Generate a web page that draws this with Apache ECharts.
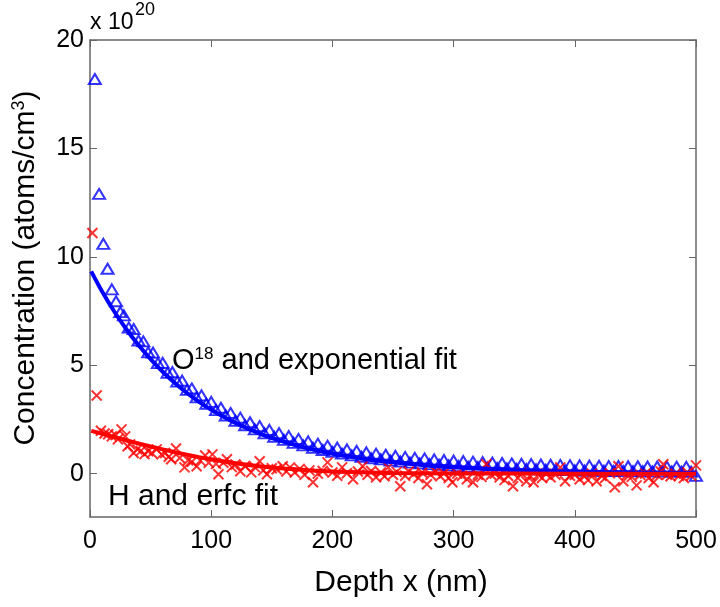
<!DOCTYPE html>
<html>
<head>
<meta charset="utf-8">
<title>Depth profile</title>
<script src="https://cdn.jsdelivr.net/npm/echarts@6/dist/echarts.min.js"></script>
<style>
  html, body { margin: 0; padding: 0; background: #fff; }
  #chart { width: 720px; height: 607px; }
</style>
</head>
<body>
<div id="chart"></div>
<script>
// O18 points, depth (nm) and concentration (x 1e20 atoms/cm3)
var oDepth = [4, 7.5, 11, 14.5, 18, 21.5, 25, 28, 32, 36, 40, 44, 48, 52, 56, 60, 64, 68, 72, 76, 80, 84, 88, 92, 96, 100,
  104, 108, 112, 116, 120, 124, 128, 132, 136, 140, 144, 148, 152, 156, 160, 164, 168, 172, 176, 180, 184, 188, 192, 196, 200,
  204, 208, 212, 216, 220, 224, 228, 232, 236, 240, 244, 248, 252, 256, 260, 264, 268, 272, 276, 280, 284, 288, 292, 296, 300,
  304, 308, 312, 316, 320, 324, 328, 332, 336, 340, 344, 348, 352, 356, 360, 364, 368, 372, 376, 380, 384, 388, 392, 396, 400,
  404, 408, 412, 416, 420, 424, 428, 432, 436, 440, 444, 448, 452, 456, 460, 464, 468, 472, 476, 480, 484, 488, 492, 496, 500];
var oConc = [18.2, 12.9, 10.6, 9.45, 8.5, 7.95, 7.45, 7.30, 6.74, 6.67, 6.14, 6.10, 5.60, 5.58, 5.10, 5.11, 4.65, 4.68, 4.24, 4.29, 3.86, 3.93, 3.52, 3.61, 3.22, 3.31,
  2.93, 3.04, 2.68, 2.80, 2.44, 2.58, 2.23, 2.37, 2.04, 2.19, 1.86, 2.02, 1.70, 1.87, 1.56, 1.73, 1.42, 1.60, 1.30, 1.49, 1.19, 1.38, 1.09, 1.29, 1.00,
  1.20, 0.92, 1.12, 0.84, 1.05, 0.78, 0.98, 0.71, 0.92, 0.66, 0.87, 0.60, 0.82, 0.56, 0.77, 0.51, 0.73, 0.47, 0.70, 0.44, 0.66, 0.41, 0.63, 0.38, 0.60,
  0.35, 0.58, 0.32, 0.55, 0.30, 0.53, 0.28, 0.51, 0.26, 0.49, 0.24, 0.47, 0.22, 0.45, 0.21, 0.44, 0.20, 0.42, 0.18, 0.41, 0.17, 0.40, 0.16, 0.39, 0.15,
  0.38, 0.14, 0.37, 0.13, 0.36, 0.13, 0.35, 0.12, 0.35, 0.12, 0.34, 0.11, 0.34, 0.11, 0.33, 0.10, 0.33, 0.10, 0.32, 0.10, 0.32, 0.09, 0.31, 0.09, -0.10];

// exponential fit
var oFitDepth = [1, 10, 20, 30, 40, 50, 60, 70, 80, 90, 100, 120, 140, 160, 180, 200, 225, 250, 275, 300, 350, 400, 450, 500];
var oFitConc = [9.33, 8.40, 7.48, 6.66, 5.93, 5.28, 4.70, 4.18, 3.72, 3.31, 2.95, 2.34, 1.85, 1.47, 1.16, 0.92, 0.69, 0.52, 0.39, 0.29, 0.16, 0.09, 0.05, 0.03];

// H points
var hDepth = [2, 5.5, 9, 12, 15, 18, 21, 23, 26, 29, 31, 33, 36, 39, 42, 45, 48, 51, 55, 59, 62, 65, 67, 71, 74, 78, 81, 84, 88, 91, 95, 98,
  101, 104, 106, 110, 113, 117, 120, 124, 128, 133, 136, 140, 143, 146, 150, 154, 159, 162, 165, 169, 173, 177, 181, 184, 188, 192, 196,
  200, 204, 208, 212, 217, 221, 225, 229, 232, 236, 240, 243, 246, 250, 253, 256, 260, 263, 267, 271, 274, 278, 281, 285, 289, 292, 296, 299,
  303, 307, 311, 316, 320, 323, 327, 331, 334, 338, 342, 345, 349, 353, 356, 360, 363, 366, 370, 373, 376, 380, 384, 388, 392, 396,
  400, 404, 408, 411, 414, 418, 422, 425, 429, 433, 436, 440, 443, 447, 451, 454, 458, 461, 465, 468, 471, 473, 476, 479, 483, 486, 490, 493, 496, 500];
var hConc = [11.1, 3.6, 1.98, 1.85, 1.82, 1.72, 1.78, 1.58, 2.04, 1.72, 1.26, 1.35, 0.95, 1.12, 1.05, 0.90, 1.03, 0.95, 1.12, 0.89, 0.95, 0.78, 0.66, 1.16, 0.72, 0.29, 0.62, 0.55, 0.34, 0.60, 0.84, 0.50,
  0.89, 0.45, -0.03, 0.50, 0.66, 0.30, 0.42, 0.11, 0.35, 0.06, 0.30, 0.57, 0.15, -0.03, 0.25, 0.20, 0.34, 0.10, 0.29, 0.05, 0.22, -0.05, 0.15, -0.40, 0.00, 0.12, 0.52,
  0.05, -0.10, 0.29, 0.02, -0.26, 0.10, 0.34, -0.05, 0.12, -0.17, 0.05, -0.12, 0.29, -0.05, 0.08, -0.58, -0.10, 0.10, -0.03, -0.20, 0.05, -0.49, -0.05, 0.10, -0.12, 0.02, -0.20, -0.40,
  0.00, -0.10, -0.26, -0.40, -0.05, -0.15, 0.43, -0.05, 0.00, -0.17, -0.30, -0.10, -0.58, -0.20, 0.02, -0.35, -0.10, -0.40, -0.05, -0.20, 0.00, -0.17, -0.05, 0.29, -0.35, -0.10,
  -0.05, -0.26, -0.12, -0.30, 0.00, -0.35, -0.10, -0.20, 0.02, -0.63, 0.34, -0.35, -0.05, -0.15, -0.54, -0.05, 0.00, -0.20, -0.40, -0.05, 0.10, 0.43, -0.05, -0.12, 0.00, -0.10, -0.20, 0.05, -0.10, 0.38];

// erfc fit
var hFitDepth = [1, 10, 20, 30, 40, 50, 60, 70, 80, 90, 100, 120, 140, 160, 180, 200, 225, 250, 300, 400, 500];
var hFitConc = [1.97, 1.84, 1.69, 1.54, 1.39, 1.25, 1.12, 0.99, 0.87, 0.76, 0.66, 0.48, 0.34, 0.24, 0.16, 0.10, 0.06, 0.03, 0.01, 0.0, 0.0];

var xTicks = [0, 100, 200, 300, 400, 500];
var yTicks = [0, 5, 10, 15, 20];

function pairs(xs, ys) {
  var out = [];
  for (var i = 0; i < xs.length; i++) out.push([xs[i], ys[i]]);
  return out;
}

var font = 'Liberation Sans, Arial, Helvetica, sans-serif';
var boxColor = '#666';
var chart = echarts.init(document.getElementById('chart'), null, { renderer: 'canvas' });

function axisBits(show) {
  return {
    axisLine: { show: true, onZero: false, lineStyle: { color: boxColor, width: 1.5 } },
    axisTick: { show: true, inside: true, length: 7, lineStyle: { color: boxColor, width: 1 } },
    splitLine: { show: false },
    axisLabel: { show: show, color: '#000', fontSize: 25, fontFamily: font }
  };
}

var xBottom = axisBits(true);
xBottom.type = 'value'; xBottom.min = 0; xBottom.max = 500; xBottom.position = 'bottom';
xBottom.axisTick.customValues = xTicks;
xBottom.axisLabel.customValues = xTicks;
xBottom.axisLabel.margin = 12;
var xTop = axisBits(false);
xTop.type = 'value'; xTop.min = 0; xTop.max = 500; xTop.position = 'top';
xTop.axisTick.customValues = xTicks;

var yLeft = axisBits(true);
yLeft.type = 'value'; yLeft.min = -2; yLeft.max = 20; yLeft.position = 'left';
yLeft.axisTick.customValues = yTicks;
yLeft.axisLabel.customValues = yTicks;
yLeft.axisLabel.margin = 6;
var yRight = axisBits(false);
yRight.type = 'value'; yRight.min = -2; yRight.max = 20; yRight.position = 'right';
yRight.axisTick.customValues = yTicks;

var option = {
  animation: false,
  backgroundColor: '#fff',
  grid: { left: 90, top: 40, width: 606, height: 477 },
  xAxis: [xBottom, xTop],
  yAxis: [yLeft, yRight],
  series: [
    {
      type: 'scatter', xAxisIndex: 0, yAxisIndex: 0,
      data: pairs(oDepth, oConc),
      symbol: 'triangle', symbolSize: [12, 10],
      itemStyle: { color: 'rgba(0,0,0,0)', borderColor: '#0000ff', borderWidth: 2 }
    },
    {
      type: 'line', xAxisIndex: 0, yAxisIndex: 0,
      data: pairs(oFitDepth, oFitConc),
      smooth: 0.3, showSymbol: false,
      lineStyle: { color: '#0000ff', width: 4 }
    },
    {
      type: 'scatter', xAxisIndex: 0, yAxisIndex: 0,
      data: pairs(hDepth, hConc),
      symbol: 'path://M0,0L10,10M10,0L0,10', symbolSize: 10,
      itemStyle: { color: 'rgba(0,0,0,0)', borderColor: '#ff0000', borderWidth: 2 }
    },
    {
      type: 'line', xAxisIndex: 0, yAxisIndex: 0,
      data: pairs(hFitDepth, hFitConc),
      smooth: 0.3, showSymbol: false,
      lineStyle: { color: '#ff0000', width: 4 }
    }
  ],
  graphic: [
    {
      type: 'text', x: 401, y: 583,
      style: { text: 'Depth x (nm)', font: '30px ' + font, fill: '#000', align: 'center', verticalAlign: 'middle' }
    },
    {
      type: 'text', x: 26, y: 268, rotation: Math.PI / 2,
      style: {
        text: '{a|Concentration (atoms/cm}{s|3}{a|)}', align: 'center', verticalAlign: 'middle', fill: '#000',
        rich: {
          a: { fontSize: 30, fontFamily: font, fill: '#000' },
          s: { fontSize: 18, fontFamily: font, fill: '#000', verticalAlign: 'bottom', padding: [0, 0, 14, 0] }
        }
      }
    },
    {
      type: 'text', x: 90, y: 23,
      style: { text: 'x 10', font: '23px ' + font, fill: '#000', align: 'left', verticalAlign: 'middle' }
    },
    {
      type: 'text', x: 135, y: 10,
      style: { text: '20', font: '18px ' + font, fill: '#000', align: 'left', verticalAlign: 'middle' }
    },
    {
      type: 'text', x: 172, y: 361,
      style: {
        text: '{a|O}{s|18}{a| and exponential fit}', align: 'left', verticalAlign: 'middle', fill: '#000',
        rich: {
          a: { fontSize: 29, fontFamily: font, fill: '#000' },
          s: { fontSize: 17, fontFamily: font, fill: '#000', verticalAlign: 'bottom', padding: [0, 0, 14, 0] }
        }
      }
    },
    {
      type: 'text', x: 108, y: 497,
      style: { text: 'H and erfc fit', font: '30px ' + font, fill: '#000', align: 'left', verticalAlign: 'middle' }
    }
  ]
};

chart.setOption(option);
</script>
</body>
</html>
